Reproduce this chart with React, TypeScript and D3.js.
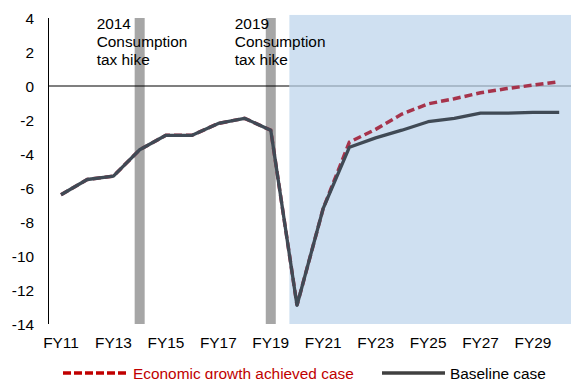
import * as d3 from "d3";

const years = [11, 12, 13, 14, 15, 16, 17, 18, 19, 20, 21, 22, 23, 24, 25, 26, 27, 28, 29, 30];
const baselineValues = [-6.4, -5.5, -5.3, -3.75, -2.9, -2.9, -2.2, -1.9, -2.6, -12.9, -7.2, -3.6, -3.05, -2.6, -2.1, -1.9, -1.6, -1.6, -1.55, -1.55];
const growthValues = [-6.4, -5.5, -5.3, -3.75, -2.9, -2.9, -2.2, -1.9, -2.6, -12.9, -7.2, -3.3, -2.55, -1.65, -1.05, -0.75, -0.4, -0.15, 0.05, 0.25];
const yTicks = [4, 2, 0, -2, -4, -6, -8, -10, -12, -14];
const xTickYears = [11, 13, 15, 17, 19, 21, 23, 25, 27, 29];
const hikeYears = [14, 19];
const hikeLabels = [
  ["2014", "Consumption", "tax hike"],
  ["2019", "Consumption", "tax hike"],
];
const forecastStart = 19.71;

const W = 571;
const H = 379;
const font = "'Liberation Sans', Arial, sans-serif";
const fs = 15.4;
// label offset from each bar's centre, in px
const labelDx = [-43, -36];

export default function App() {
  const x = d3.scaleLinear().domain([11, 30]).range([61, 559.2]);
  const y = d3.scaleLinear().domain([-14, 4]).range([324, 18]);

  const line = d3
    .line<number>()
    .x((_, i) => x(years[i]))
    .y((d) => y(d));

  const axisX = 48.5;

  return (
    <svg
      width={W}
      height={H}
      style={{ position: "absolute", left: 0, top: 0, fontFamily: font }}
    >
      <rect width={W} height={H} fill="#fff" />

      {/* forecast shading */}
      <rect
        x={x(forecastStart)}
        y={y(4.18)}
        width={W - x(forecastStart)}
        height={y(-14) - y(4.18)}
        fill="#cfe0f1"
      />

      {/* consumption tax hike bars */}
      {hikeYears.map((yr) => (
        <rect
          key={yr}
          x={x(yr) - 5}
          y={y(4)}
          width={10}
          height={y(-14) - y(4)}
          fill="#a6a6a6"
        />
      ))}

      {/* zero line */}
      <line x1={axisX} x2={x(forecastStart)} y1={y(0)} y2={y(0)} stroke="#000" strokeWidth={1.2} />
      <line x1={x(forecastStart)} x2={W} y1={y(0)} y2={y(0)} stroke="#8494a4" strokeWidth={1.2} />

      {/* y axis */}
      <line x1={axisX} x2={axisX} y1={y(4)} y2={y(-14)} stroke="#000" strokeWidth={1} />
      {yTicks.map((t) => (
        <text key={t} x={34} y={y(t) + 5.5} textAnchor="end" fontSize={fs} fill="#000">
          {t}
        </text>
      ))}

      {/* x labels */}
      {xTickYears.map((yr) => (
        <text key={yr} x={x(yr)} y={348} textAnchor="middle" fontSize={fs} fill="#000">
          {`FY${yr}`}
        </text>
      ))}

      {/* annotations */}
      {hikeYears.map((yr, k) => (
        <text key={yr} fontSize={fs} fill="#000">
          {hikeLabels[k].map((l, i) => (
            <tspan key={i} x={x(yr) + labelDx[k]} y={28.5 + i * 18.3}>
              {l}
            </tspan>
          ))}
        </text>
      ))}

      {/* series */}
      <path
        d={line(growthValues) ?? ""}
        fill="none"
        stroke="#a6334b"
        strokeWidth={3.5}
        strokeDasharray="8 4"
      />
      <path
        d={line(baselineValues) ?? ""}
        fill="none"
        stroke="#404a55"
        strokeWidth={3.3}
        strokeLinejoin="round"
      />

      {/* legend */}
      <line x1={63} x2={128} y1={373} y2={373} stroke="#c00000" strokeWidth={3.5} strokeDasharray="8 3" />
      <text x={133} y={378.5} fontSize={fs} fill="#c00000">
        Economic growth achieved case
      </text>
      <line x1={382} x2={445} y1={373} y2={373} stroke="#404040" strokeWidth={3.5} />
      <text x={450} y={378.5} fontSize={fs} fill="#000">
        Baseline case
      </text>
    </svg>
  );
}
